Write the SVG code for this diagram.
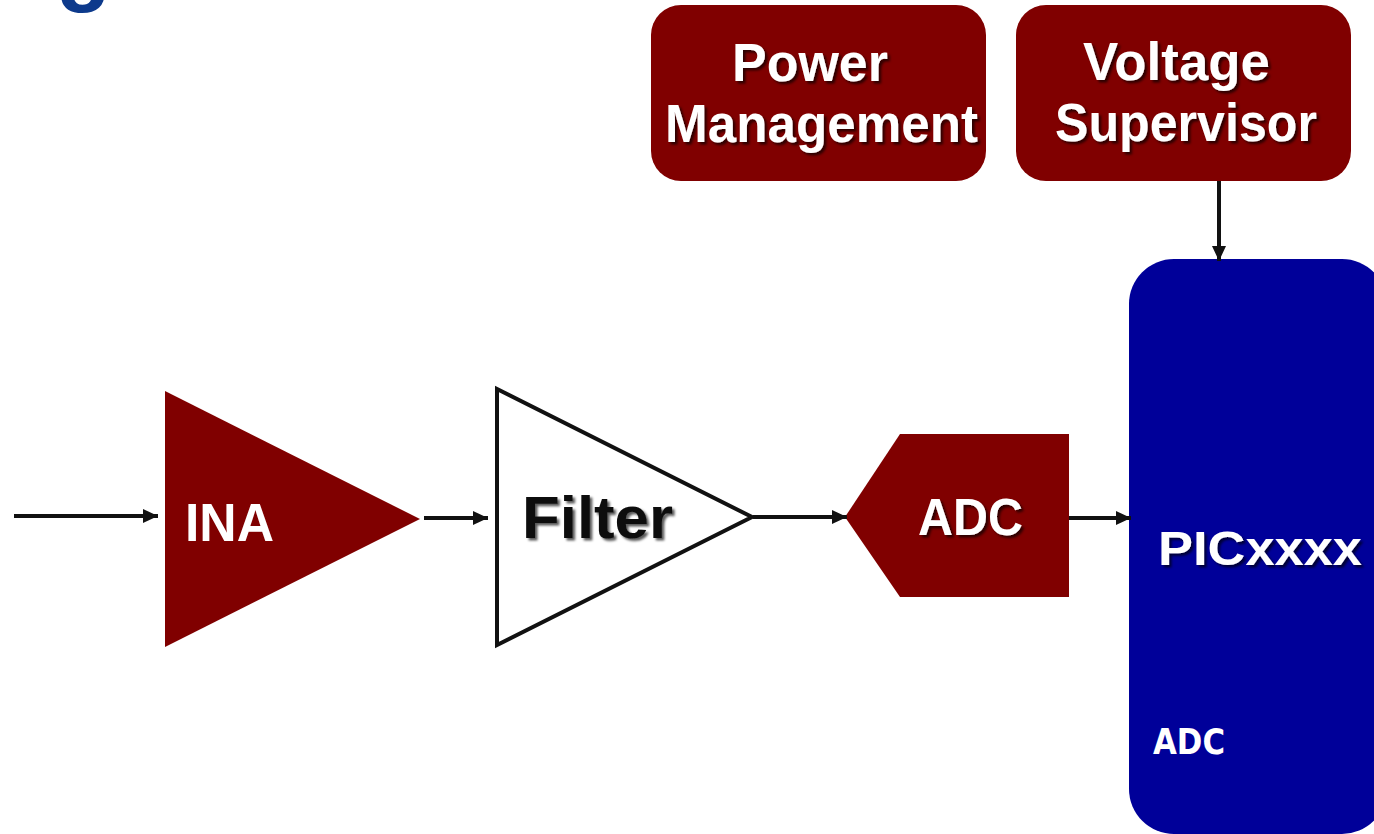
<svg xmlns="http://www.w3.org/2000/svg" width="1374" height="834" viewBox="0 0 1374 834">
  <style>
    .maroon { fill: #800000; }
    .lbl { font-family: "Liberation Sans", Arial, sans-serif; font-weight: bold; fill: #ffffff; text-anchor: start; }
    .shadow { filter: url(#ds); }
    .conn { stroke: #111111; stroke-width: 4; fill: none; marker-end: url(#arr); }
  </style>
  <defs>
    <filter id="ds" x="-10%" y="-20%" width="130%" height="150%">
      <feDropShadow dx="2.5" dy="2.5" stdDeviation="1" flood-color="#000000" flood-opacity="0.65"/>
    </filter>
    <marker id="arr" markerUnits="userSpaceOnUse" markerWidth="16" markerHeight="16" viewBox="0 0 16 16" refX="15" refY="8" orient="auto">
      <path d="M0,1 L15,8 L0,15 Z" fill="#111111"/>
    </marker>
  </defs>
  <rect width="1374" height="834" fill="#ffffff"/>

  <text x="56" y="-6" font-family="Liberation Sans, Arial, sans-serif" font-weight="bold" font-size="90" fill="#0d3a8c">g</text>

  <g id="power-management">
    <rect class="maroon" x="651" y="5" width="335" height="176" rx="30" ry="30"/>
    <text class="lbl shadow" x="732" y="81" font-size="53" textLength="156" lengthAdjust="spacingAndGlyphs">Power</text>
    <text class="lbl shadow" x="665" y="142" font-size="53" textLength="313" lengthAdjust="spacingAndGlyphs">Management</text>
  </g>

  <g id="voltage-supervisor">
    <rect class="maroon" x="1016" y="5" width="335" height="176" rx="30" ry="30"/>
    <text class="lbl shadow" x="1083" y="80" font-size="53" textLength="187" lengthAdjust="spacingAndGlyphs">Voltage</text>
    <text class="lbl shadow" x="1055" y="141" font-size="53" textLength="262" lengthAdjust="spacingAndGlyphs">Supervisor</text>
  </g>

  <g id="pic">
    <rect x="1129" y="259" width="258" height="575" rx="45" ry="45" fill="#000099"/>
    <text class="lbl shadow" x="1158" y="565" font-size="48" textLength="204" lengthAdjust="spacingAndGlyphs">PICxxxx</text>
    <text x="1153" y="754" font-family="DejaVu Sans, Verdana, sans-serif" font-weight="bold" font-size="35" fill="#ffffff" textLength="72" lengthAdjust="spacingAndGlyphs">ADC</text>
  </g>

  <g id="ina">
    <polygon class="maroon" points="165,391 165,647 420,519"/>
    <text class="lbl" x="185" y="541" font-size="54" textLength="89" lengthAdjust="spacingAndGlyphs">INA</text>
  </g>

  <g id="filter">
    <polygon points="497,389 497,645 752,517" fill="#ffffff" stroke="#111111" stroke-width="4" stroke-linejoin="miter"/>
    <text class="lbl shadow" x="522" y="538" font-size="60" fill="#111111" style="fill:#111111" textLength="151" lengthAdjust="spacingAndGlyphs">Filter</text>
  </g>

  <g id="adc">
    <polygon class="maroon" points="845,517 900,434 1069,434 1069,597 900,597"/>
    <text class="lbl shadow" x="918" y="535" font-size="51" textLength="105" lengthAdjust="spacingAndGlyphs">ADC</text>
  </g>

  <g id="connectors">
    <line class="conn" x1="14" y1="516" x2="158" y2="516"/>
    <line class="conn" x1="424" y1="518" x2="488" y2="518"/>
    <line class="conn" x1="753" y1="517" x2="847" y2="517"/>
    <line class="conn" x1="1069" y1="518" x2="1131" y2="518"/>
    <line class="conn" x1="1219" y1="181" x2="1219" y2="261"/>
  </g>
</svg>
